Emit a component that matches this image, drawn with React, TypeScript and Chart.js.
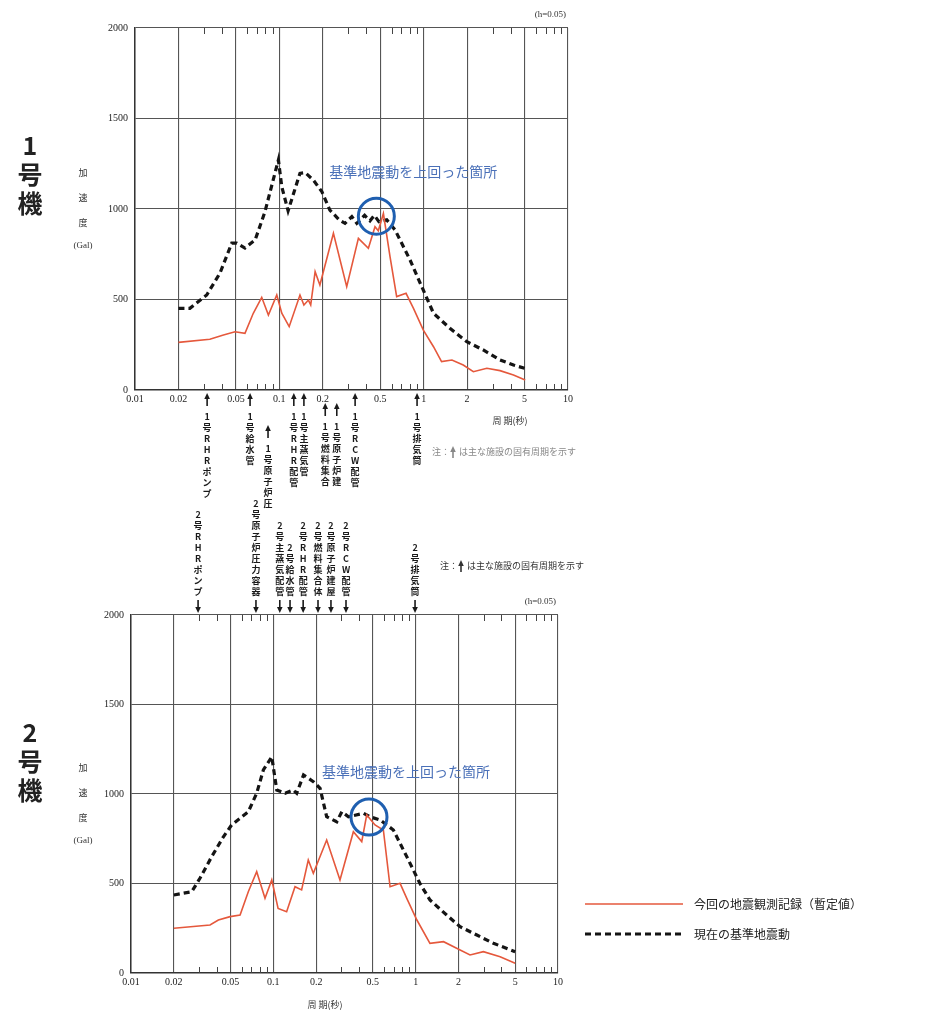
import { useEffect, useRef } from "react";
import { Chart, registerables } from "chart.js";
Chart.register(...registerables);

const FONT_JP = '"Noto Sans CJK JP", "Noto Sans", sans-serif';
const FONT_NUM = '"Liberation Serif", "DejaVu Serif", serif';

const periodTicks = [0.01, 0.02, 0.05, 0.1, 0.2, 0.5, 1, 2, 5, 10];
const periodTickLabels = ["0.01", "0.02", "0.05", "0.1", "0.2", "0.5", "1", "2", "5", "10"];
const periodMinorTicks = [0.03, 0.04, 0.06, 0.07, 0.08, 0.09, 0.3, 0.4, 0.6, 0.7, 0.8, 0.9, 3, 4, 6, 7, 8, 9];
const accelTicks = [0, 500, 1000, 1500, 2000];

const seriesLabels = ["今回の地震観測記録（暫定値）", "現在の基準地震動"];

// 1号機
const unit1BasePeriod = [0.02, 0.024, 0.0314, 0.0388, 0.0468, 0.0507, 0.0578, 0.068, 0.0795, 0.0985, 0.104, 0.115, 0.139, 0.151, 0.172, 0.197, 0.224, 0.26, 0.285, 0.318, 0.344, 0.39, 0.425, 0.455, 0.49, 0.555, 0.634, 0.805, 0.97, 1.17, 1.52, 1.99, 2.59, 3.38, 4.19, 5.0];
const unit1BaseAccel = [451, 451, 525, 646, 811, 811, 784, 829, 985, 1271, 1123, 990, 1197, 1201, 1160, 1096, 994, 940, 921, 958, 921, 965, 935, 965, 930, 940, 884, 718, 571, 424, 341, 267, 221, 166, 138, 120];
const unit1ObsPeriod = [0.02, 0.033, 0.041, 0.0493, 0.0578, 0.066, 0.0755, 0.084, 0.096, 0.104, 0.117, 0.139, 0.148, 0.159, 0.165, 0.177, 0.191, 0.237, 0.293, 0.353, 0.414, 0.46, 0.485, 0.526, 0.585, 0.65, 0.755, 0.85, 0.995, 1.17, 1.33, 1.57, 1.88, 2.21, 2.74, 3.38, 4.19, 5.05];
const unit1ObsAccel = [263, 280, 304, 322, 313, 424, 512, 414, 525, 424, 350, 525, 470, 497, 470, 654, 580, 866, 571, 838, 783, 902, 880, 975, 736, 516, 534, 451, 331, 239, 157, 166, 138, 101, 120, 107, 83, 55];
const unit1FacilityNames = ["1号RHRポンプ", "1号給水管", "1号原子炉圧", "1号RHR配管", "1号主蒸気管", "1号燃料集合", "1号原子炉建", "1号RCW配管", "1号排気筒"];
const unit1FacilityPeriods = [0.0316, 0.0627, 0.0835, 0.126, 0.148, 0.208, 0.25, 0.335, 0.9];
const unit1LabelDrop = [0, 0, 32, 0, 0, 10, 10, 0, 0];
const unit1ExceedPeriod = 0.47;
const unit1ExceedAccel = 960;

// 2号機
const unit2BasePeriod = [0.02, 0.0267, 0.0305, 0.0369, 0.0446, 0.0509, 0.0667, 0.0764, 0.0851, 0.0975, 0.1057, 0.121, 0.138, 0.146, 0.163, 0.191, 0.213, 0.237, 0.279, 0.303, 0.337, 0.43, 0.478, 0.563, 0.697, 0.866, 1.07, 1.26, 1.65, 2.05, 2.69, 3.52, 5.0];
const unit2BaseAccel = [436, 454, 529, 650, 761, 827, 901, 1004, 1134, 1208, 1022, 1004, 1022, 1004, 1106, 1069, 1032, 873, 845, 901, 873, 892, 873, 855, 799, 650, 501, 408, 324, 259, 212, 166, 119];
const unit2ObsPeriod = [0.02, 0.0359, 0.0411, 0.0497, 0.0584, 0.0667, 0.0764, 0.0874, 0.0975, 0.108, 0.124, 0.142, 0.158, 0.176, 0.191, 0.237, 0.294, 0.365, 0.418, 0.453, 0.518, 0.593, 0.661, 0.777, 0.866, 1.02, 1.26, 1.57, 1.94, 2.41, 2.99, 3.92, 5.0];
const unit2ObsAccel = [250, 268, 296, 315, 324, 454, 566, 417, 520, 361, 342, 482, 464, 631, 557, 743, 520, 789, 734, 883, 827, 799, 482, 501, 417, 296, 166, 175, 138, 101, 119, 91, 54];
const unit2FacilityNames = ["2号RHRポンプ", "2号原子炉圧力容器", "2号主蒸気配管", "2号給水管", "2号RHR配管", "2号燃料集合体", "2号原子炉建屋", "2号RCW配管", "2号排気筒"];
const unit2FacilityPeriods = [0.0296, 0.0755, 0.111, 0.131, 0.162, 0.206, 0.254, 0.324, 0.99];
const unit2ExceedPeriod = 0.47;
const unit2ExceedAccel = 871;

type Unit = {
  num: string;
  basePeriod: number[];
  baseAccel: number[];
  obsPeriod: number[];
  obsAccel: number[];
  facNames: string[];
  facPeriods: number[];
  facDrop: number[];
  facDir: "up" | "down";
  exceedP: number;
  exceedA: number;
  padding: { left: number; right: number; top: number; bottom: number };
  titleTop: number;
  xTitle: { x: number; y: number };
  note: { x: number; y: number; color: string };
  legend: boolean;
};

function vText(ctx: CanvasRenderingContext2D, text: string, x: number, yTop: number, step: number) {
  Array.from(text).forEach((ch, i) => ctx.fillText(ch, x, yTop + i * step + step / 2));
}

function arrow(ctx: CanvasRenderingContext2D, x: number, tip: number, tail: number) {
  const dir = tail > tip ? 1 : -1;
  ctx.beginPath();
  ctx.moveTo(x, tip + dir * 4);
  ctx.lineTo(x, tail);
  ctx.stroke();
  ctx.beginPath();
  ctx.moveTo(x, tip);
  ctx.lineTo(x - 2.8, tip + dir * 6);
  ctx.lineTo(x + 2.8, tip + dir * 6);
  ctx.closePath();
  ctx.fill();
}

function decor(u: Unit) {
  return {
    id: "decor" + u.num,
    afterDraw(chart: any) {
      const ctx: CanvasRenderingContext2D = chart.ctx;
      const a = chart.chartArea;
      const xs = chart.scales.x;
      const ys = chart.scales.y;
      ctx.save();
      // minor ticks
      ctx.strokeStyle = "#444";
      ctx.lineWidth = 1;
      periodMinorTicks.forEach((v) => {
        const px = Math.round(xs.getPixelForValue(v)) + 0.5;
        ctx.beginPath();
        ctx.moveTo(px, a.bottom);
        ctx.lineTo(px, a.bottom - 6);
        ctx.moveTo(px, a.top);
        ctx.lineTo(px, a.top + 6);
        ctx.stroke();
      });
      // big unit label
      ctx.fillStyle = "#222";
      ctx.font = "bold 25px " + FONT_JP;
      ctx.textAlign = "center";
      ctx.textBaseline = "middle";
      [u.num, "号", "機"].forEach((ch, i) => ctx.fillText(ch, 30, a.top + 117 + i * 29));
      // y axis title
      ctx.font = "9px " + FONT_JP;
      ctx.fillStyle = "#333";
      ["加", "速", "度"].forEach((ch, i) => ctx.fillText(ch, 83, u.titleTop + i * 25));
      ctx.font = "9px " + FONT_NUM;
      ctx.fillText("(Gal)", 83, u.titleTop + 73);
      // h=0.05
      ctx.textAlign = "right";
      ctx.font = "9px " + FONT_NUM;
      ctx.fillText("(h=0.05)", a.right - 2, a.top - 13);
      // x title
      ctx.textAlign = "center";
      ctx.font = "9px " + FONT_JP;
      ctx.fillText("周 期(秒)", u.xTitle.x, u.xTitle.y);
      // facilities
      ctx.fillStyle = "#1a1a1a";
      ctx.strokeStyle = "#1a1a1a";
      ctx.lineWidth = 1.6;
      ctx.font = "bold 9px " + FONT_JP;
      u.facNames.forEach((name, i) => {
        const px = xs.getPixelForValue(u.facPeriods[i]);
        const step = 11;
        const n = Array.from(name).length;
        if (u.facDir === "up") {
          const tip = a.bottom + 3 + u.facDrop[i];
          arrow(ctx, px, tip, tip + 13);
          vText(ctx, name, px, tip + 18, step);
        } else {
          const tip = a.top - 2;
          arrow(ctx, px, tip, tip - 13);
          vText(ctx, name, px, tip - 16 - n * step, step);
        }
      });
      // note
      ctx.fillStyle = u.note.color;
      ctx.strokeStyle = u.note.color;
      ctx.textAlign = "left";
      ctx.font = "9px " + FONT_JP;
      const p1 = "注：";
      ctx.fillText(p1, u.note.x, u.note.y);
      const w1 = ctx.measureText(p1).width;
      ctx.lineWidth = 1.6;
      arrow(ctx, u.note.x + w1 + 3, u.note.y - 6, u.note.y + 6);
      ctx.fillText("は主な施設の固有周期を示す", u.note.x + w1 + 9, u.note.y);
      // exceed circle + text
      const cx = xs.getPixelForValue(u.exceedP);
      const cy = ys.getPixelForValue(u.exceedA);
      ctx.strokeStyle = "#1f5fb0";
      ctx.lineWidth = 3;
      ctx.beginPath();
      ctx.arc(cx, cy, 18, 0, Math.PI * 2);
      ctx.stroke();
      ctx.fillStyle = "#4a70b8";
      ctx.font = "14px " + FONT_JP;
      ctx.textAlign = "left";
      ctx.fillText("基準地震動を上回った箇所", cx - 47, cy - 45);
      // legend
      if (u.legend) {
        const ds = chart.data.datasets;
        [0, 1].forEach((k) => {
          const y = 904 + k * 30;
          ctx.strokeStyle = ds[k].borderColor;
          ctx.lineWidth = ds[k].borderWidth;
          ctx.setLineDash(ds[k].borderDash || []);
          ctx.beginPath();
          ctx.moveTo(585, y);
          ctx.lineTo(683, y);
          ctx.stroke();
          ctx.setLineDash([]);
          ctx.fillStyle = "#222";
          ctx.font = "12px " + FONT_JP;
          ctx.textAlign = "left";
          ctx.fillText(ds[k].label, 694, y);
        });
      }
      ctx.restore();
    },
  };
}

function makeConfig(u: Unit): any {
  return {
    type: "line",
    data: {
      datasets: [
        {
          label: seriesLabels[0],
          data: u.obsPeriod.map((p, i) => ({ x: p, y: u.obsAccel[i] })),
          borderColor: "#e5583c",
          borderWidth: 1.6,
          pointRadius: 0,
          tension: 0,
          fill: false,
        },
        {
          label: seriesLabels[1],
          data: u.basePeriod.map((p, i) => ({ x: p, y: u.baseAccel[i] })),
          borderColor: "#141414",
          borderWidth: 3.2,
          borderDash: [6, 4],
          pointRadius: 0,
          tension: 0,
          fill: false,
        },
      ],
    },
    options: {
      responsive: false,
      animation: false,
      events: [],
      layout: { padding: u.padding },
      plugins: { legend: { display: false }, tooltip: { enabled: false } },
      scales: {
        x: {
          type: "logarithmic",
          min: 0.01,
          max: 10,
          afterBuildTicks: (s: any) => {
            s.ticks = periodTicks.map((v) => ({ value: v }));
          },
          afterFit: (s: any) => {
            s.height = 20;
          },
          ticks: {
            autoSkip: false,
            maxRotation: 0,
            padding: 3,
            color: "#222",
            font: { family: FONT_NUM, size: 10 },
            callback: (_v: any, i: number) => periodTickLabels[i],
          },
          grid: { color: "#555", lineWidth: 1.1, drawTicks: false },
          border: { color: "#333", width: 1.5 },
        },
        y: {
          min: 0,
          max: 2000,
          afterBuildTicks: (s: any) => {
            s.ticks = accelTicks.map((v) => ({ value: v }));
          },
          afterFit: (s: any) => {
            s.width = 40;
          },
          ticks: {
            padding: 7,
            color: "#222",
            font: { family: FONT_NUM, size: 10 },
            callback: (v: any) => String(v),
          },
          grid: { color: "#555", lineWidth: 1.1, drawTicks: false },
          border: { color: "#333", width: 1.5 },
        },
      },
    },
    plugins: [decor(u)],
  };
}

const unit1: Unit = {
  num: "1",
  basePeriod: unit1BasePeriod,
  baseAccel: unit1BaseAccel,
  obsPeriod: unit1ObsPeriod,
  obsAccel: unit1ObsAccel,
  facNames: unit1FacilityNames,
  facPeriods: unit1FacilityPeriods,
  facDrop: unit1LabelDrop,
  facDir: "up",
  exceedP: unit1ExceedPeriod,
  exceedA: unit1ExceedAccel,
  padding: { left: 95, right: 380, top: 28, bottom: 603 },
  titleTop: 173,
  xTitle: { x: 510, y: 421 },
  note: { x: 432, y: 452, color: "#888" },
  legend: false,
};

const unit2: Unit = {
  num: "2",
  basePeriod: unit2BasePeriod,
  baseAccel: unit2BaseAccel,
  obsPeriod: unit2ObsPeriod,
  obsAccel: unit2ObsAccel,
  facNames: unit2FacilityNames,
  facPeriods: unit2FacilityPeriods,
  facDrop: unit2FacilityNames.map(() => 0),
  facDir: "down",
  exceedP: unit2ExceedPeriod,
  exceedA: unit2ExceedAccel,
  padding: { left: 91, right: 390, top: 615, bottom: 20 },
  titleTop: 768,
  xTitle: { x: 325, y: 1005 },
  note: { x: 440, y: 566, color: "#333" },
  legend: true,
};

export default function App() {
  const ref1 = useRef<HTMLCanvasElement>(null);
  const ref2 = useRef<HTMLCanvasElement>(null);
  useEffect(() => {
    const c1 = new Chart(ref1.current as HTMLCanvasElement, makeConfig(unit1));
    const c2 = new Chart(ref2.current as HTMLCanvasElement, makeConfig(unit2));
    return () => {
      c1.destroy();
      c2.destroy();
    };
  }, []);
  return (
    <div style={{ position: "absolute", left: 0, top: 0, width: 948, height: 1013, background: "#fff" }}>
      <canvas ref={ref1} width={948} height={1013} style={{ position: "absolute", left: 0, top: 0, width: 948, height: 1013 }} />
      <canvas ref={ref2} width={948} height={1013} style={{ position: "absolute", left: 0, top: 0, width: 948, height: 1013 }} />
    </div>
  );
}
